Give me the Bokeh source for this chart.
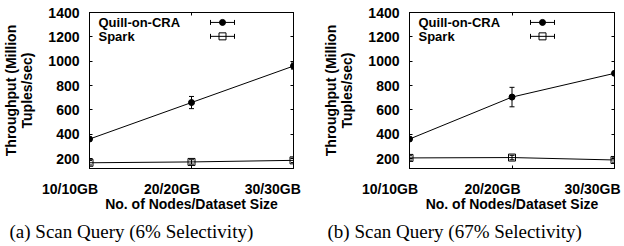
from bokeh.plotting import figure
from bokeh.models import (Range1d, LinearAxis, FixedTicker, ColumnDataSource,
                          Whisker, TeeHead, Label, Title)
from bokeh.layouts import row
from bokeh.embed import file_html
from bokeh.resources import INLINE

categories = ["10/10GB", "20/20GB", "30/30GB"]
yticks = [200, 400, 600, 800, 1000, 1200, 1400]
series_names = ["Quill-on-CRA", "Spark"]

quill_a = [360, 660, 960]
quill_a_err = [15, 50, 25]
spark_a = [165, 172, 185]
spark_a_err = [18, 18, 18]

quill_b = [360, 705, 900]
quill_b_err = [15, 80, 15]
spark_b = [205, 208, 188]
spark_b_err = [18, 18, 18]

captions = ["(a) Scan Query (6% Selectivity)", "(b) Scan Query (67% Selectivity)"]
y_title = "Throughput (Million\nTuples/sec)"
x_title = "No. of Nodes/Dataset Size"

SANS = "Liberation Sans"
SERIF = "Liberation Serif"
W, H = 312, 246
TOP, BOTTOM = 12, 77
YMIN, YMAX = 118, 1400


def make_panel(quill, qerr, spark, serr, caption, left, right, cap_offset, pads):
    xs = list(range(len(categories)))
    fw = W - left - right
    fh = H - TOP - BOTTOM

    p = figure(width=W, height=H, output_backend="svg", toolbar_location=None,
               x_range=Range1d(xs[0], xs[-1]), y_range=Range1d(YMIN, YMAX),
               min_border_left=left, min_border_right=right,
               min_border_top=TOP, min_border_bottom=BOTTOM)
    p.grid.visible = False
    p.outline_line_color = "black"
    p.outline_line_width = 1
    p.background_fill_color = "white"
    p.border_fill_color = "white"

    # x axis (bottom); trailing spaces move labels left of their ticks as in the original
    xa = p.xaxis[0]
    xa.ticker = FixedTicker(ticks=xs)
    xa.major_label_overrides = {x: c + " " * n for x, c, n in zip(xs, categories, pads)}
    xa.major_label_text_font = SANS
    xa.major_label_text_font_style = "bold"
    xa.major_label_text_font_size = "14px"
    xa.major_label_text_color = "black"
    xa.major_label_standoff = 12
    xa.major_tick_in = 3
    xa.major_tick_out = 0
    xa.minor_tick_in = 0
    xa.minor_tick_out = 0
    xa.axis_line_color = "black"
    xa.axis_label = x_title
    xa.axis_label_text_font = SANS
    xa.axis_label_text_font_style = "bold"
    xa.axis_label_text_font_size = "14px"
    xa.axis_label_text_color = "black"
    xa.axis_label_standoff = -4

    # y axis (left)
    ya = p.yaxis[0]
    ya.ticker = FixedTicker(ticks=yticks)
    ya.major_label_text_font = SANS
    ya.major_label_text_font_style = "bold"
    ya.major_label_text_font_size = "14px"
    ya.major_label_text_color = "black"
    ya.major_label_standoff = 10
    ya.major_tick_in = 3
    ya.major_tick_out = 0
    ya.minor_tick_in = 0
    ya.minor_tick_out = 0
    ya.axis_line_color = "black"
    ya.axis_label = y_title
    ya.axis_label_text_font = SANS
    ya.axis_label_text_font_style = "bold"
    ya.axis_label_text_font_size = "14px"
    ya.axis_label_text_line_height = 1.0
    ya.axis_label_text_color = "black"
    ya.axis_label_standoff = 10

    # mirrored ticks (right / top), no labels
    ra = LinearAxis(ticker=FixedTicker(ticks=[], minor_ticks=yticks), major_label_standoff=0,
                    major_tick_in=0, major_tick_out=0, minor_tick_in=3, minor_tick_out=0,
                    axis_line_color="black", axis_label_standoff=0)
    p.add_layout(ra, "right")
    ta = LinearAxis(ticker=FixedTicker(ticks=[], minor_ticks=xs), major_label_standoff=0,
                    major_tick_in=0, major_tick_out=0, minor_tick_in=3, minor_tick_out=0,
                    axis_line_color="black", axis_label_standoff=0)
    p.add_layout(ta, "above")

    # caption below
    p.add_layout(Title(text=caption, align="left", offset=cap_offset, text_font=SERIF,
                       text_font_style="normal", text_font_size="19px", text_color="black",
                       standoff=9), "below")

    # data
    p.line(xs, quill, line_color="black", line_width=1)
    p.scatter(xs, quill, marker="circle", size=6, fill_color="black", line_color="black")
    p.line(xs, spark, line_color="black", line_width=1)
    p.scatter(xs, spark, marker="square", size=7, fill_color=None, line_color="black")

    for vals, errs in ((quill, qerr), (spark, serr)):
        src = ColumnDataSource(dict(x=xs, upper=[v + e for v, e in zip(vals, errs)],
                                    lower=[v - e for v, e in zip(vals, errs)]))
        p.add_layout(Whisker(source=src, base="x", upper="upper", lower="lower",
                             line_color="black", line_width=1,
                             upper_head=TeeHead(size=5, line_color="black", line_width=1),
                             lower_head=TeeHead(size=5, line_color="black", line_width=1)))

    # legend (text left, sample right, like gnuplot)
    def dx(px):
        return xs[0] + px / fw * (xs[-1] - xs[0])

    def dy(px_from_top):
        return YMAX - px_from_top / fh * (YMAX - YMIN)

    legend_rows = [(10, "circle", "black"), (24, "square", None)]
    for name, (off, marker, fill) in zip(series_names, legend_rows):
        p.add_layout(Label(x=9, y=fh - off - 1, x_units="screen", y_units="screen", text=name,
                           text_align="left", text_baseline="middle", text_font=SANS,
                           text_font_style="bold", text_font_size="13px", text_color="black"))
        yy = dy(off)
        p.segment(x0=[dx(121)], y0=[yy], x1=[dx(145)], y1=[yy], line_color="black", line_width=1)
        h = 2.5 / fh * (YMAX - YMIN)
        p.segment(x0=[dx(121), dx(145)], y0=[yy - h, yy - h], x1=[dx(121), dx(145)],
                  y1=[yy + h, yy + h], line_color="black", line_width=1)
        p.scatter([dx(133)], [yy], marker=marker, size=6 if marker == "circle" else 7,
                  fill_color=fill, line_color="black")
    return p


p1 = make_panel(quill_a, quill_a_err, spark_a, spark_a_err, captions[0], 89, 19, -80, [10, 10, 3])
p2 = make_panel(quill_b, quill_b_err, spark_b, spark_b_err, captions[1], 97, 10, -82, [10, 10, 1])

layout = row(p1, p2)
open("out.html", "w").write(file_html(layout, INLINE))
